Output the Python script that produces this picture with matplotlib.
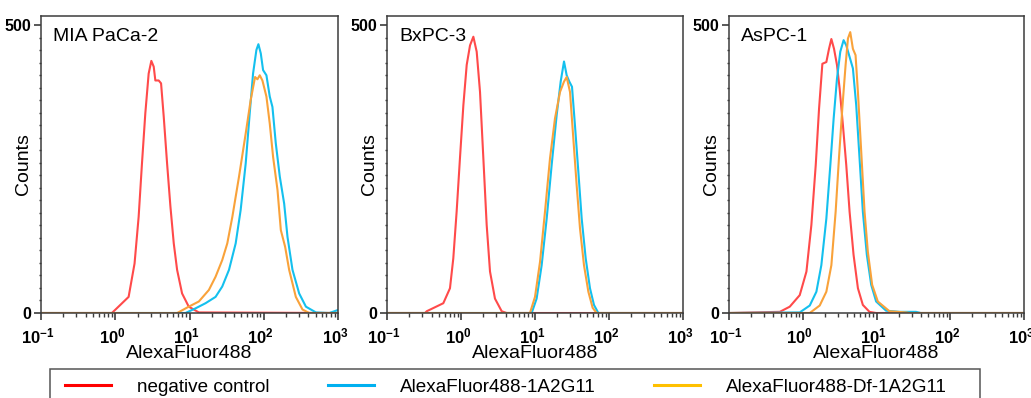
import numpy as np
import matplotlib
matplotlib.use('Agg')
import matplotlib.pyplot as plt
from matplotlib.lines import Line2D
from matplotlib.patches import Rectangle
from matplotlib.ticker import LogLocator, NullFormatter
from matplotlib.transforms import ScaledTranslation

plt.rcParams['font.family'] = ['Liberation Sans', 'DejaVu Sans']
plt.rcParams['mathtext.fontset'] = 'custom'
plt.rcParams['mathtext.rm'] = 'Liberation Sans'
plt.rcParams['mathtext.bf'] = 'Liberation Sans:bold'

# colours
RED = '#ff4a4a'
CYAN = '#14c0ee'
ORANGE = '#f9a23a'
LEG_RED = '#ff0000'
LEG_BLUE = '#00b0f0'
LEG_YELLOW = '#ffc000'
FRAME = '#3c3c3c'

panel_names = ['MIA PaCa-2', 'BxPC-3', 'AsPC-1']
series_labels = ['negative control', 'AlexaFluor488-1A2G11', 'AlexaFluor488-Df-1A2G11']
x_ticks = [0.1, 1, 10, 100, 1000]
x_tick_labels = [r'$\mathbf{10^{-1}}$', r'$\mathbf{10^{0}}$', r'$\mathbf{10^{1}}$',
                 r'$\mathbf{10^{2}}$', r'$\mathbf{10^{3}}$']
y_ticks = [0, 500]

# --- MIA PaCa-2 (x in log10 of fluorescence, y in counts) ---
mia_red_x = [-1.0, -0.045, 0.18, 0.26, 0.315, 0.36, 0.405, 0.45, 0.486, 0.518, 0.54, 0.585,
             0.617, 0.653, 0.698, 0.743, 0.788, 0.833, 0.9, 0.99, 1.126, 3.0]
mia_red_y = [0, 0, 28, 86, 167, 260, 347, 416, 438, 428, 404, 404,
             399, 341, 260, 185, 121, 75, 34, 11, 1, 0]
mia_blue_x = [-1.0, 0.946, 1.08, 1.216, 1.351, 1.441, 1.532, 1.622, 1.689, 1.757, 1.811, 1.856,
              1.901, 1.928, 1.96, 1.991, 2.036, 2.081, 2.117, 2.162, 2.216, 2.275, 2.32, 2.387,
              2.477, 2.568, 2.703, 2.883, 2.995, 3.0]
mia_blue_y = [0, 0, 8, 17, 28, 46, 75, 121, 179, 260, 347, 416,
              457, 467, 451, 422, 413, 376, 358, 295, 237, 190, 132, 75,
              34, 11, 1, 0, 5, 5]
mia_orange_x = [-1.0, 0.834, 0.99, 1.126, 1.261, 1.351, 1.441, 1.509, 1.577, 1.667, 1.757, 1.824,
                1.883, 1.915, 1.946, 1.982, 2.036, 2.081, 2.126, 2.185, 2.23, 2.288, 2.342, 2.432,
                2.522, 2.613, 3.0]
mia_orange_y = [0, 0, 11, 20, 40, 63, 92, 121, 167, 237, 312, 370,
                410, 406, 413, 404, 376, 329, 271, 214, 144, 115, 75, 28,
                6, 0, 0]

# --- BxPC-3 ---
bx_red_x = [-1.0, -0.486, -0.464, -0.239, -0.149, -0.104, -0.059, -0.014, 0.032, 0.077, 0.122,
            0.167, 0.212, 0.257, 0.302, 0.347, 0.392, 0.459, 0.55, 0.617, 3.0]
bx_red_y = [0, 0, 3, 17, 43, 95, 176, 269, 361, 431, 465,
            480, 454, 384, 269, 153, 72, 25, 3, 0, 0]
bx_blue_x = [-1.0, 0.955, 1.022, 1.09, 1.158, 1.225, 1.293, 1.347, 1.392, 1.428, 1.464, 1.5,
             1.54, 1.586, 1.631, 1.685, 1.743, 1.797, 1.856, 3.0]
bx_blue_y = [0, 0, 25, 83, 164, 257, 344, 402, 437, 413, 402, 393,
             326, 245, 164, 95, 43, 14, 0, 0]
bx_orange_x = [-1.0, 0.932, 1.0, 1.068, 1.135, 1.203, 1.27, 1.338, 1.392, 1.428, 1.473, 1.518,
               1.563, 1.608, 1.662, 1.721, 1.779, 1.833, 3.0]
bx_orange_y = [0, 0, 28, 89, 176, 269, 338, 384, 402, 410, 384, 303,
               222, 147, 83, 37, 9, 0, 0]

# --- AsPC-1 ---
as_red_x = [-1.0, -0.311, -0.176, -0.041, 0.05, 0.117, 0.176, 0.221, 0.266, 0.32, 0.356, 0.388,
            0.424, 0.464, 0.5, 0.545, 0.59, 0.635, 0.689, 0.748, 0.815, 0.905, 0.995, 3.0]
as_red_y = [0, 2, 11, 31, 72, 153, 257, 355, 433, 436, 459, 476,
            459, 431, 390, 326, 257, 176, 101, 43, 14, 2, 0, 0]
as_blue_x = [-1.0, -0.041, 0.095, 0.185, 0.252, 0.32, 0.374, 0.419, 0.464, 0.509, 0.554, 0.59,
             0.635, 0.68, 0.725, 0.77, 0.815, 0.869, 0.928, 0.995, 1.13, 1.311, 1.536, 1.6, 3.0]
as_blue_y = [0, 1, 13, 37, 83, 164, 257, 338, 407, 454, 474, 465,
             445, 425, 361, 269, 176, 101, 49, 20, 4, 2, 2, 0, 0]
as_orange_x = [-1.0, 0.095, 0.23, 0.32, 0.388, 0.446, 0.491, 0.536, 0.581, 0.613, 0.644, 0.68,
               0.716, 0.748, 0.793, 0.838, 0.883, 0.941, 1.018, 1.176, 1.401, 1.45, 3.0]
as_orange_y = [0, 0, 13, 37, 83, 176, 269, 355, 431, 477, 488, 459,
               448, 384, 280, 176, 106, 49, 20, 3, 1, 0, 0]

panels = [
    [(mia_red_x, mia_red_y), (mia_blue_x, mia_blue_y), (mia_orange_x, mia_orange_y)],
    [(bx_red_x, bx_red_y), (bx_blue_x, bx_blue_y), (bx_orange_x, bx_orange_y)],
    [(as_red_x, as_red_y), (as_blue_x, as_blue_y), (as_orange_x, as_orange_y)],
]
line_colors = [RED, CYAN, ORANGE]

W, H = 1031, 398
fig = plt.figure(figsize=(W / 100, H / 100), dpi=100, facecolor='white')

# axes boxes in pixels: left, right
boxes = [(41, 338), (387, 683), (729, 1024)]
top_px, bot_px = 16, 313
label_shift = ScaledTranslation(-3 / 100, 0, fig.dpi_scale_trans)

for i, (name, series) in enumerate(zip(panel_names, panels)):
    l, r = boxes[i]
    ax = fig.add_axes([l / W, 1 - bot_px / H, (r - l) / W, (bot_px - top_px) / H])
    for (xs, ys), c in zip(series, line_colors):
        ax.plot(10 ** np.array(xs), ys, color=c, linewidth=1.5, solid_joinstyle='round')

    ax.set_xscale('log')
    ax.set_xlim(0.1, 1000)
    ax.set_ylim(0, 516)
    ax.set_xticks(x_ticks)
    ax.set_xticklabels(x_tick_labels, fontsize=12)
    ax.xaxis.set_minor_locator(LogLocator(base=10, subs=np.arange(2, 10)))
    ax.xaxis.set_minor_formatter(NullFormatter())
    ax.set_yticks(y_ticks)
    ax.set_yticklabels([str(v) for v in y_ticks], fontsize=11.5, fontweight='bold')
    ax.set_yticks(np.linspace(0, 500, 24), minor=True)

    ax.tick_params(axis='both', which='major', direction='out', length=5, width=1.2,
                   color=FRAME, pad=2)
    ax.tick_params(axis='x', which='minor', direction='out', length=3, width=1, color=FRAME)
    ax.tick_params(axis='y', which='minor', direction='out', length=1.5, width=1, color=FRAME)
    ax.tick_params(axis='x', which='major', pad=5)
    for lab in ax.get_xticklabels():
        lab.set_transform(lab.get_transform() + label_shift)
    for s in ax.spines.values():
        s.set_color(FRAME)
        s.set_linewidth(1.1)

    ax.set_xlabel('AlexaFluor488', fontsize=14, labelpad=-1)
    ax.set_ylabel('Counts', fontsize=14)
    ax.yaxis.set_label_coords(-9 / (r - l), 0.5)
    ax.text(12 / (r - l), 0.93, name, transform=ax.transAxes, fontsize=14,
            va='center', ha='left')

# legend frame (runs off the bottom edge, as in the original figure)
fig.add_artist(Rectangle((50 / W, -0.1), 930 / W, (1 - 369 / H) + 0.1,
                         transform=fig.transFigure, fill=False,
                         edgecolor='#555555', linewidth=1.1))
handles = [Line2D([], [], color=c, linewidth=2.2) for c in (LEG_RED, LEG_BLUE, LEG_YELLOW)]
fig.legend(handles, series_labels, loc='center left',
           bbox_to_anchor=(65 / W, 1 - 387 / H),
           ncol=3, frameon=False, fontsize=13.6, handlelength=2.43,
           handletextpad=1.38, columnspacing=3.1, borderpad=0, borderaxespad=0)

fig.savefig('out.png', dpi=100, facecolor='white')
